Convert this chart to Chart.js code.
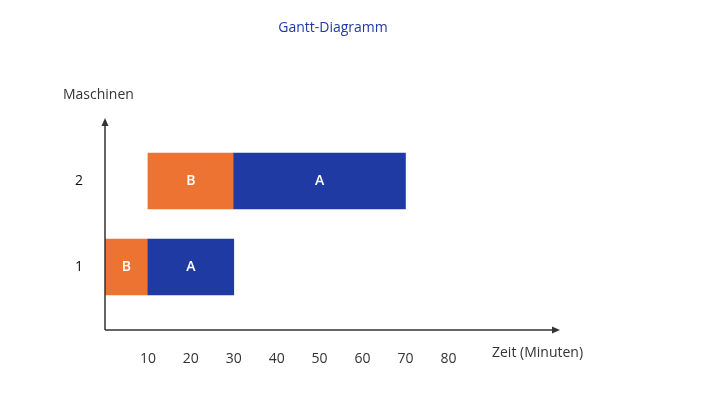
<!DOCTYPE html>
<html><head><meta charset="utf-8">
<script src="https://cdn.jsdelivr.net/npm/chart.js@4"></script>
<style>html,body{margin:0;padding:0;background:#fff}#w{width:720px;height:405px}</style>
</head><body><div id="w"><canvas id="c"></canvas></div>
<script>
const machines = ['2', '1'];
const jobA = [[30, 70], [10, 30]];
const jobB = [[10, 30], [0, 10]];
const xTicks = [10, 20, 30, 40, 50, 60, 70, 80];
const seriesNames = ['A', 'B'];
const colA = '#1F3AA3', colB = '#ED7332';
const FONT = '"Open Sans", sans-serif';

const extras = {
  id: 'extras',
  afterDatasetsDraw(chart) {
    const ctx = chart.ctx, a = chart.chartArea;
    const top = a.top - 20, bottom = a.bottom + 20;
    ctx.save();
    ctx.strokeStyle = '#333'; ctx.fillStyle = '#333'; ctx.lineWidth = 1.5;
    ctx.beginPath(); ctx.moveTo(a.left, bottom); ctx.lineTo(a.right - 4, bottom);
    ctx.moveTo(a.left, bottom); ctx.lineTo(a.left, top + 4); ctx.stroke();
    ctx.beginPath(); ctx.moveTo(a.right, bottom); ctx.lineTo(a.right - 8, bottom - 3.5); ctx.lineTo(a.right - 8, bottom + 3.5); ctx.fill();
    ctx.beginPath(); ctx.moveTo(a.left, top); ctx.lineTo(a.left - 3.5, top + 8); ctx.lineTo(a.left + 3.5, top + 8); ctx.fill();
    ctx.font = '14px ' + FONT; ctx.fillStyle = '#333'; ctx.textBaseline = 'middle';
    ctx.textAlign = 'left';
    ctx.fillText('Maschinen', 63, 95);
    ctx.fillText('Zeit (Minuten)', 492, 353);
    ctx.textAlign = 'center'; ctx.fillStyle = '#1F3AA3';
    ctx.fillText('Gantt-Diagramm', 333, 28);
    ctx.fillStyle = '#fff'; ctx.font = '600 14px ' + FONT;
    chart.data.datasets.forEach((ds, di) => {
      chart.getDatasetMeta(di).data.forEach(el => {
        ctx.fillText(ds.label, (el.x + el.base) / 2, el.y);
      });
    });
    ctx.restore();
  }
};

new Chart(document.getElementById('c'), {
  type: 'bar',
  data: {
    labels: machines,
    datasets: [
      { label: seriesNames[0], data: jobA, backgroundColor: colA, barThickness: 56, grouped: false },
      { label: seriesNames[1], data: jobB, backgroundColor: colB, barThickness: 56, grouped: false }
    ]
  },
  options: {
    indexAxis: 'y', responsive: true, maintainAspectRatio: false, animation: false,
    layout: { padding: { top: 138, right: 160, left: 0, bottom: 0 } },
    plugins: { legend: { display: false }, tooltip: { enabled: false } },
    scales: {
      x: {
        type: 'linear', min: 0, max: 106, grid: { display: false }, border: { display: false },
        afterBuildTicks(s) { s.ticks = xTicks.map(v => ({ value: v })); },
        afterFit(s) { s.height = 95; },
        ticks: { color: '#333', font: { size: 14, family: FONT }, padding: 33, maxRotation: 0 }
      },
      y: {
        type: 'category', offset: true, grid: { display: false }, border: { display: false },
        afterFit(s) { s.width = 105; },
        ticks: { color: '#111', font: { size: 14, family: FONT }, padding: 14 }
      }
    }
  },
  plugins: [extras]
});
</script></body></html>
